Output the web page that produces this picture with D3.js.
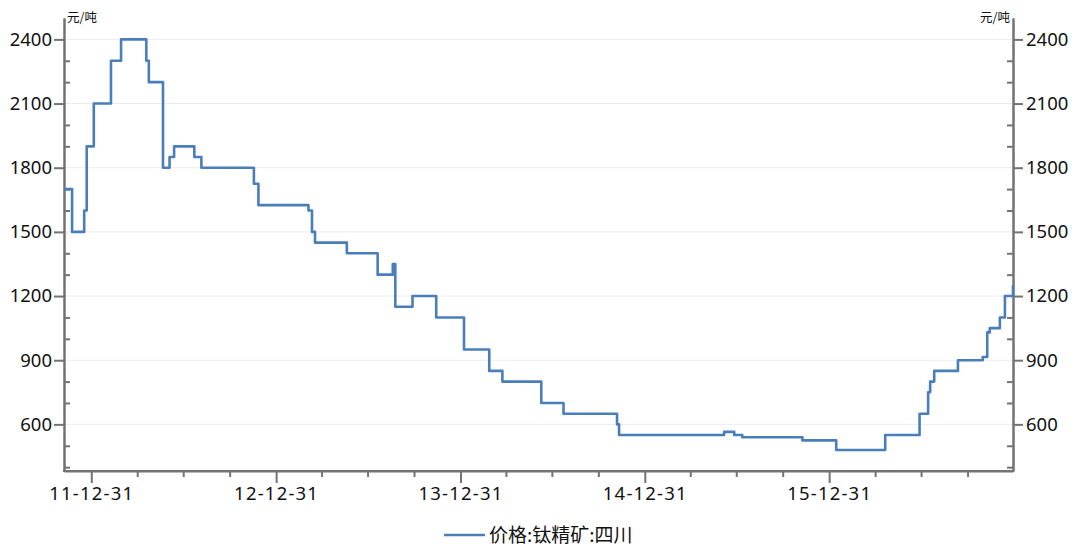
<!DOCTYPE html>
<html>
<head>
<meta charset="utf-8">
<script src="https://cdn.jsdelivr.net/npm/d3@7"></script>
<style>
  html, body { margin: 0; padding: 0; background: #fff; }
  svg { display: block; }
  text { font-family: "Noto Sans", "Noto Sans CJK SC", sans-serif; fill: #111; }
  .cjk { font-family: "Noto Sans CJK SC", "Noto Sans", sans-serif; }
</style>
</head>
<body>
<script>
// ---- data (step changes: date, price) ----
const dates = [
  "2011-11-07","2011-11-23","2011-12-17","2011-12-22","2012-01-05","2012-02-08",
  "2012-02-28","2012-04-18","2012-04-23","2012-05-21","2012-06-03","2012-06-12",
  "2012-07-22","2012-08-05","2012-11-17","2012-11-26","2013-03-05","2013-03-12",
  "2013-03-18","2013-05-20","2013-07-20","2013-08-19","2013-08-24","2013-09-27",
  "2013-11-13","2014-01-07","2014-02-26","2014-03-24","2014-06-09","2014-07-23",
  "2014-11-06","2014-11-10","2015-06-06","2015-06-26","2015-07-12","2015-11-08",
  "2016-01-14","2016-04-20","2016-06-27","2016-07-14","2016-07-18","2016-07-26",
  "2016-09-11","2016-10-30","2016-11-08","2016-11-13","2016-12-03","2016-12-13",
  "2016-12-29"
];
const prices = [
  1700,1500,1600,1900,2100,2300,
  2400,2300,2200,1800,1850,1900,
  1850,1800,1725,1625,1600,1500,
  1450,1400,1300,1350,1150,1200,
  1100,950,850,800,700,650,
  600,550,565,550,540,525,
  480,550,650,750,800,850,
  900,915,1030,1050,1100,1200,
  1250
];
const yMajorTicks = [600, 900, 1200, 1500, 1800, 2100, 2400];
const yMinorTicks = [400, 500, 700, 800, 1000, 1100, 1300, 1400, 1600, 1700, 1900, 2000, 2200, 2300];
const xStart = "2011-11-07", xEnd = "2016-12-29";
const seriesName = "价格:钛精矿:四川";
const unitLabel = "元/吨";

// ---- layout ----
const W = 1079, H = 546;
const mLeft = 64, mRight = 1013, mTop = 18, mBottom = 471;
const parse = d3.timeParse("%Y-%m-%d");
const data = dates.map((d, i) => ({ date: parse(d), value: prices[i] }));

const x = d3.scaleTime().domain([parse(xStart), parse(xEnd)]).range([mLeft, mRight]);
const y = d3.scaleLinear().domain([382, 2500]).range([mBottom, mTop]);

const svg = d3.select("body").append("svg").attr("width", W).attr("height", H);

// gridlines
svg.append("g").selectAll("line").data(yMajorTicks).join("line")
  .attr("x1", mLeft).attr("x2", mRight)
  .attr("y1", d => y(d)).attr("y2", d => y(d))
  .attr("stroke", "#ececec").attr("stroke-width", 1);

const axisColor = "#737373";

// quarter-end ticks
const qStarts = d3.timeMonth.every(3).range(parse("2011-10-01"), parse("2017-04-01"));
const quarterEnds = qStarts.map(d => d3.timeDay.offset(d, -1))
  .filter(d => d >= x.domain()[0] && d <= x.domain()[1]);
const yearEnds = quarterEnds.filter(d => d.getMonth() === 11);
const minorQ = quarterEnds.filter(d => d.getMonth() !== 11);

function styleAxis(g) {
  g.select(".domain").attr("stroke", axisColor).attr("stroke-width", 2);
  g.selectAll(".tick line").attr("stroke", axisColor).attr("stroke-width", 2);
}

// x axis minor
svg.append("g").attr("transform", `translate(0,${mBottom})`)
  .call(d3.axisBottom(x).tickValues(minorQ).tickSize(6).tickSizeOuter(0).tickFormat(""))
  .call(styleAxis);
// x axis major
const gx = svg.append("g").attr("transform", `translate(0,${mBottom})`)
  .call(d3.axisBottom(x).tickValues(yearEnds).tickSize(12).tickSizeOuter(0)
    .tickFormat(d3.timeFormat("%y-%m-%d")).tickPadding(4))
  .call(styleAxis);
gx.selectAll("text").attr("font-size", "18.5px").attr("fill", "#111")
  .attr("letter-spacing", "1.2px");
gx.select(".domain").attr("d", `M${mLeft - 1},0H${mRight + 1}`);

const yFmt = d3.format("d");
// left axis
svg.append("g").attr("transform", `translate(${mLeft},0)`)
  .call(d3.axisRight(y).tickValues(yMinorTicks).tickSize(6).tickSizeOuter(0).tickFormat(""))
  .call(styleAxis);
const gl = svg.append("g").attr("transform", `translate(${mLeft},0)`)
  .call(d3.axisLeft(y).tickValues(yMajorTicks).tickSize(10).tickSizeOuter(0).tickPadding(2).tickFormat(yFmt))
  .call(styleAxis);
gl.selectAll("text").attr("font-size", "18.5px").attr("fill", "#111");

// right axis
svg.append("g").attr("transform", `translate(${mRight},0)`)
  .call(d3.axisLeft(y).tickValues(yMinorTicks).tickSize(6).tickSizeOuter(0).tickFormat(""))
  .call(styleAxis);
const gr = svg.append("g").attr("transform", `translate(${mRight},0)`)
  .call(d3.axisRight(y).tickValues(yMajorTicks).tickSize(10).tickSizeOuter(0).tickPadding(3).tickFormat(yFmt))
  .call(styleAxis);
gr.selectAll("text").attr("font-size", "18.5px").attr("fill", "#111");

// unit labels
svg.append("text").attr("class", "cjk").attr("x", mLeft + 3).attr("y", 22)
  .attr("font-size", "12.5px").text(unitLabel);
svg.append("text").attr("class", "cjk").attr("x", mRight - 3).attr("y", 22)
  .attr("text-anchor", "end").attr("font-size", "12.5px").text(unitLabel);

// series line
const line = d3.line().x(d => x(d.date)).y(d => y(d.value)).curve(d3.curveStepAfter);
svg.append("path").datum(data)
  .attr("fill", "none").attr("stroke", "#4a7ebb").attr("stroke-width", 2.6)
  .attr("stroke-linejoin", "round")
  .attr("d", line);

// legend
const lg = svg.append("g");
lg.append("line").attr("x1", 444).attr("x2", 485).attr("y1", 535).attr("y2", 535)
  .attr("stroke", "#4a7ebb").attr("stroke-width", 2.6);
lg.append("text").attr("class", "cjk").attr("x", 489).attr("y", 542)
  .attr("font-size", "19px").text(seriesName);
</script>
</body>
</html>
